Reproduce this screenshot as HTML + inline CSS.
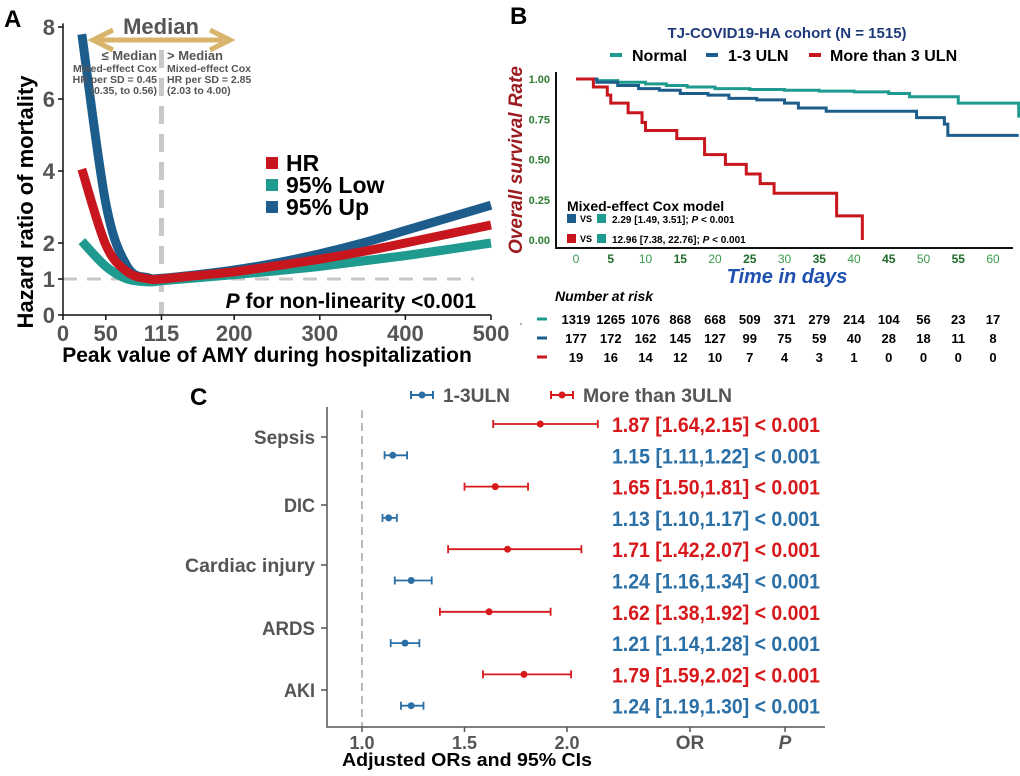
<!DOCTYPE html>
<html><head><meta charset="utf-8"><style>
body{margin:0;background:#fff;}
svg text{font-family:"Liberation Sans",Arial,sans-serif;}
</style></head><body>
<svg width="1020" height="771" viewBox="0 0 1020 771">
<g id="A"></g>
<g id="B"></g>
<g id="C"></g>
</svg>
<script>
// ---------- Panel A data ----------
const aX=[22,50,75,100,115,150,200,250,300,350,400,450,500];
const aHR=[4.05,1.95,1.2,1.0,1.0,1.08,1.2,1.37,1.55,1.76,2.0,2.25,2.5];
const aLow=[2.05,1.35,1.0,0.92,0.95,1.02,1.12,1.23,1.35,1.5,1.65,1.82,2.0];
const aUp=[7.8,3.1,1.35,1.03,1.02,1.1,1.25,1.45,1.7,2.0,2.35,2.7,3.05];
const aXTicks=[0,50,115,200,300,400,500];
const aYTicks=[0,1,2,4,6,8];
// ---------- Panel B data ----------
const kmNormalT=[0,3,6,10,13,16,20,25,30,35,40,45,48,55,63.5,63.7];
const kmNormalS=[1,0.99,0.98,0.97,0.96,0.95,0.94,0.935,0.93,0.925,0.92,0.91,0.89,0.85,0.85,0.76];
const kmMidT=[0,3,6,9,12,15,19,22,26,30,32,36,40,49,53,53.5,63.7];
const kmMidS=[1,0.98,0.96,0.94,0.93,0.91,0.9,0.88,0.87,0.85,0.82,0.8,0.8,0.76,0.72,0.65,0.65];
const kmHighT=[0,2.5,4.5,5,7.5,9.5,10,14.5,18.5,21.5,24.5,26.5,28.5,37.5,41,41.2];
const kmHighS=[1,0.95,0.9,0.85,0.79,0.73,0.68,0.63,0.53,0.47,0.41,0.35,0.29,0.15,0.15,0.0];
const bXTicks=[0,5,10,15,20,25,30,35,40,45,50,55,60];
const bYTicks=[0,0.25,0.5,0.75,1.0];
const riskNormal=[1319,1265,1076,868,668,509,371,279,214,104,56,23,17];
const riskMid=[177,172,162,145,127,99,75,59,40,28,18,11,8];
const riskHigh=[19,16,14,12,10,7,4,3,1,0,0,0,0];
// ---------- Panel C data ----------
const cCats=["Sepsis","DIC","Cardiac injury","ARDS","AKI"];
const cRedOR=[1.87,1.65,1.71,1.62,1.79];
const cRedLo=[1.64,1.50,1.42,1.38,1.59];
const cRedHi=[2.15,1.81,2.07,1.92,2.02];
const cBlueOR=[1.15,1.13,1.24,1.21,1.24];
const cBlueLo=[1.11,1.10,1.16,1.14,1.19];
const cBlueHi=[1.22,1.17,1.34,1.28,1.30];
const cXTicks=[1.0,1.5,2.0];

const NS="http://www.w3.org/2000/svg";
function mk(p,tag,at,txt){const e=document.createElementNS(NS,tag);for(const k in at)e.setAttribute(k,at[k]);if(txt!==undefined)e.textContent=txt;p.appendChild(e);return e;}
function spline(pts){let d="M"+pts[0][0]+","+pts[0][1];for(let i=0;i<pts.length-1;i++){const p0=pts[Math.max(0,i-1)],p1=pts[i],p2=pts[i+1],p3=pts[Math.min(pts.length-1,i+2)];const c1=[p1[0]+(p2[0]-p0[0])/6,p1[1]+(p2[1]-p0[1])/6],c2=[p2[0]-(p3[0]-p1[0])/6,p2[1]-(p3[1]-p1[1])/6];d+=" C"+c1+" "+c2+" "+p2;}return d;}

// ===== Panel A =====
const A=document.getElementById('A');
const ax=v=>63+v/500*428, ay=v=>315-v*36;
let t=mk(A,'text',{x:4,y:27,'font-size':24,'font-weight':'bold'},'A');

let l=mk(A,'line',{x1:ax(0),y1:ay(1),x2:ax(480),y2:ay(1),stroke:'#c8c8c8','stroke-width':3,'stroke-dasharray':'14,10'});

l=mk(A,'line',{x1:ax(115),y1:50,x2:ax(115),y2:315,stroke:'#c8c8c8','stroke-width':5,'stroke-dasharray':'18,10'});

[[aLow,'#1f9a8f','curve-95-low'],[aUp,'#1c5d8c','curve-95-up'],[aHR,'#c8161e','curve-hr']].forEach(([s,c,n])=>{
  const p=mk(A,'path',{d:spline(aX.map((x,i)=>[ax(x),ay(s[i])])),fill:'none',stroke:c,'stroke-width':9});
  
});
l=mk(A,'path',{d:'M'+ax(0)+','+ay(8.1)+' V315 H491',fill:'none',stroke:'#111','stroke-width':1.5});

aYTicks.forEach(v=>{const tt=mk(A,'text',{x:55,y:ay(v)+8,'font-size':22,'font-weight':'bold',fill:'#555','text-anchor':'end'},v);

const tk=mk(A,'line',{x1:58,y1:ay(v),x2:63,y2:ay(v),stroke:'#111','stroke-width':1.5});});
aXTicks.forEach(v=>{const tt=mk(A,'text',{x:ax(v),y:341,'font-size':22,'font-weight':'bold',fill:'#555','text-anchor':'middle'},v);

const tk=mk(A,'line',{x1:ax(v),y1:315,x2:ax(v),y2:320,stroke:'#111','stroke-width':1.5});});
t=mk(A,'text',{x:33,y:202,'font-size':22,'font-weight':'bold','text-anchor':'middle',transform:'rotate(-90 33 202)'},'Hazard ratio of mortality');

t=mk(A,'text',{x:267,y:362,'font-size':21,'font-weight':'bold','text-anchor':'middle'},'Peak value of AMY during hospitalization');

t=mk(A,'text',{x:476,y:308,'font-size':21,'font-weight':'bold','text-anchor':'end'});

mk(t,'tspan',{'font-style':'italic'},'P');mk(t,'tspan',{},' for non-linearity <0.001');
[['HR','#c8161e',171],['95% Low','#1f9a8f',193],['95% Up','#1c5d8c',215]].forEach(([n,c,y])=>{
  const g=mk(A,'g',{});
  mk(g,'rect',{x:266,y:y-14,width:12,height:12,fill:c});
  mk(g,'text',{x:286,y:y,'font-size':23,'font-weight':'bold'},n);
});
const arr=mk(A,'g',{});
mk(arr,'path',{d:'M98,40 H225 M113,30 L93,40 L113,50 M210,30 L230,40 L210,50',fill:'none',stroke:'#d9b46c','stroke-width':5});
t=mk(A,'text',{x:161,y:34,'font-size':22,'font-weight':'bold',fill:'#555','text-anchor':'middle'},'Median');

[['≤ Median',157,60,13],['Mixed-effect Cox',157,72,10.5],['HR per SD = 0.45',157,83,10.5],['(0.35, to 0.56)',157,94,10.5]].forEach(([s,x,y,f])=>{
  const e=mk(A,'text',{x:x,y:y,'font-size':f,'font-weight':'bold',fill:'#555','text-anchor':'end'},s);});
[['> Median',167,60,13],['Mixed-effect Cox',167,72,10.5],['HR per SD = 2.85',167,83,10.5],['(2.03 to 4.00)',167,94,10.5]].forEach(([s,x,y,f])=>{
  const e=mk(A,'text',{x:x,y:y,'font-size':f,'font-weight':'bold',fill:'#555'},s);});

// ===== Panel B =====
const B=document.getElementById('B');
const bx=v=>576+v*6.95, by=v=>240-v*161;
t=mk(B,'text',{x:510,y:24,'font-size':24,'font-weight':'bold'},'B');
t=mk(B,'text',{x:787,y:38,'font-size':15,'font-weight':'bold',fill:'#1f3a7a','text-anchor':'middle'},'TJ-COVID19-HA cohort (N = 1515)');

[['Normal','#1f9a8f',610,632],['1-3 ULN','#1c5d8c',706,728],['More than 3 ULN','#c8161e',809,830]].forEach(([n,c,x,tx])=>{
  const g=mk(B,'g',{});
  mk(g,'line',{x1:x,y1:55,x2:x+12,y2:55,stroke:c,'stroke-width':4});
  mk(g,'text',{x:tx,y:61,'font-size':16,'font-weight':'bold'},n);
});
[[kmNormalT,kmNormalS,'#1f9a8f','km-normal'],[kmMidT,kmMidS,'#1c5d8c','km-1-3-uln'],[kmHighT,kmHighS,'#c8161e','km-more-than-3-uln']].forEach(([T,S,c,n])=>{
  let d='M'+bx(T[0])+','+by(S[0]);for(let i=1;i<T.length;i++){d+=' H'+bx(T[i])+' V'+by(S[i]);}
  const p=mk(B,'path',{d:d,fill:'none',stroke:c,'stroke-width':3});
});
l=mk(B,'path',{d:'M556,72 V248 H1013',fill:'none',stroke:'#111','stroke-width':2});
bYTicks.forEach(v=>{const e=mk(B,'text',{x:550,y:by(v)+4,'font-size':11,'font-weight':'bold',fill:'#2e7d32','text-anchor':'end'},v.toFixed(2));
});
bXTicks.forEach((v,i)=>{const e=mk(B,'text',{x:bx(v),y:263,'font-size':12,'font-weight':i%2?'bold':'normal',fill:i%2?'#1e6b2a':'#3a9a4a','text-anchor':'middle'},v);
});
t=mk(B,'text',{x:787,y:283,'font-size':20,'font-weight':'bold','font-style':'italic',fill:'#1f4fb0','text-anchor':'middle'},'Time in days');

t=mk(B,'text',{x:522,y:160,'font-size':19,'font-weight':'bold','font-style':'italic',fill:'#9b1b1f','text-anchor':'middle',transform:'rotate(-90 522 160)'},'Overall survival Rate');

t=mk(B,'g',{});
mk(t,'text',{x:567,y:211,'font-size':14,'font-weight':'bold'},'Mixed-effect Cox model');
mk(t,'rect',{x:567,y:214,width:9,height:9,fill:'#1c5d8c'});mk(t,'text',{x:580,y:222,'font-size':9,'font-weight':'bold'},'VS');
mk(t,'rect',{x:597,y:214,width:9,height:9,fill:'#1f9a8f'});
const c1=mk(t,'text',{x:612,y:223,'font-size':10,'font-weight':'bold'},'2.29 [1.49, 3.51]; ');mk(c1,'tspan',{'font-style':'italic'},'P');mk(c1,'tspan',{},' < 0.001');
mk(t,'rect',{x:567,y:234,width:9,height:9,fill:'#c8161e'});mk(t,'text',{x:580,y:242,'font-size':9,'font-weight':'bold'},'VS');
mk(t,'rect',{x:597,y:234,width:9,height:9,fill:'#1f9a8f'});
const c2=mk(t,'text',{x:612,y:243,'font-size':10,'font-weight':'bold'},'12.96 [7.38, 22.76]; ');mk(c2,'tspan',{'font-style':'italic'},'P');mk(c2,'tspan',{},' < 0.001');
t=mk(B,'text',{x:555,y:301,'font-size':14,'font-weight':'bold','font-style':'italic'},'Number at risk');

[[riskNormal,'#1f9a8f',324],[riskMid,'#1c5d8c',343],[riskHigh,'#c8161e',362]].forEach(([R,c,y])=>{
  const g=mk(B,'g',{});
  mk(g,'line',{x1:537,y1:y-5,x2:547,y2:y-5,stroke:c,'stroke-width':3});
  R.forEach((v,i)=>mk(g,'text',{x:bx(bXTicks[i]),y:y,'font-size':13,'font-weight':'bold','text-anchor':'middle'},v));
});
t=mk(B,'text',{x:520,y:330,'font-size':10,fill:'#555'},"'");

// ===== Panel C =====
const C=document.getElementById('C');
const cx=v=>362+(v-1)*205;
const rowY=i=>424+i*31.3;
t=mk(C,'text',{x:190,y:405,'font-size':24,'font-weight':'bold'},'C');
[['1-3ULN','#2a6fa6',411,443,67],['More than 3ULN','#d7191c',551,583,149]].forEach(([n,c,x,tx,w])=>{
  const g=mk(C,'g',{});
  mk(g,'path',{d:`M${x},391 V399 M${x},395 H${x+22} M${x+22},391 V399`,stroke:c,'stroke-width':2,fill:'none'});
  mk(g,'circle',{cx:x+11,cy:395,r:3.5,fill:c});
  mk(g,'text',{x:tx,y:402,'font-size':19,'font-weight':'bold',fill:'#555',textLength:w,lengthAdjust:'spacingAndGlyphs'},n);
});
l=mk(C,'line',{x1:cx(1),y1:410,x2:cx(1),y2:727,stroke:'#bbb','stroke-width':2,'stroke-dasharray':'8,5'});
l=mk(C,'path',{d:'M327,407 V727 H825',fill:'none',stroke:'#555','stroke-width':1.5});
const catY=[437,505,565,628,690];
const catW=[61,31,130,53,31];
cCats.forEach((n,i)=>{const e=mk(C,'text',{x:315,y:catY[i]+7,'font-size':19,'font-weight':'bold',fill:'#555','text-anchor':'end',textLength:catW[i],lengthAdjust:'spacingAndGlyphs'},n);

mk(C,'line',{x1:321,y1:catY[i],x2:327,y2:catY[i],stroke:'#555','stroke-width':1.5});});
function ci(y,lo,hi,o,c,n){const g=mk(C,'g',{});
  mk(g,'path',{d:`M${cx(lo)},${y-4} V${y+4} M${cx(lo)},${y} H${cx(hi)} M${cx(hi)},${y-4} V${y+4}`,stroke:c,'stroke-width':1.8,fill:'none'});
  mk(g,'circle',{cx:cx(o),cy:y,r:3.5,fill:c});}
cCats.forEach((n,i)=>{
  const yr=rowY(2*i),yb=rowY(2*i+1);
  ci(yr,cRedLo[i],cRedHi[i],cRedOR[i],'#d7191c','ci-more-than-3uln');
  ci(yb,cBlueLo[i],cBlueHi[i],cBlueOR[i],'#2a6fa6','ci-1-3uln');
  let e=mk(C,'text',{x:612,y:yr+8,'font-size':21,'font-weight':'bold',fill:'#d7191c',textLength:208,lengthAdjust:'spacingAndGlyphs'},`${cRedOR[i].toFixed(2)} [${cRedLo[i].toFixed(2)},${cRedHi[i].toFixed(2)}] < 0.001`);
  
  e=mk(C,'text',{x:612,y:yb+8,'font-size':21,'font-weight':'bold',fill:'#2a6fa6',textLength:208,lengthAdjust:'spacingAndGlyphs'},`${cBlueOR[i].toFixed(2)} [${cBlueLo[i].toFixed(2)},${cBlueHi[i].toFixed(2)}] < 0.001`);
  
});
cXTicks.forEach(v=>{const e=mk(C,'text',{x:cx(v),y:749,'font-size':18,'font-weight':'bold',fill:'#555','text-anchor':'middle'},v.toFixed(1));

mk(C,'line',{x1:cx(v),y1:727,x2:cx(v),y2:732,stroke:'#555','stroke-width':1.5});});
[['OR',690],['P',785]].forEach(([s,x])=>{const e=mk(C,'text',{x:x,y:749,'font-size':19,'font-weight':'bold','font-style':s=='P'?'italic':'normal',fill:'#555','text-anchor':'middle'},s);

mk(C,'line',{x1:x,y1:727,x2:x,y2:732,stroke:'#555','stroke-width':1.5});});
t=mk(C,'text',{x:467,y:766,'font-size':18,'font-weight':'bold','text-anchor':'middle',textLength:250,lengthAdjust:'spacingAndGlyphs'},'Adjusted ORs and 95% CIs');

</script>
</body></html>
